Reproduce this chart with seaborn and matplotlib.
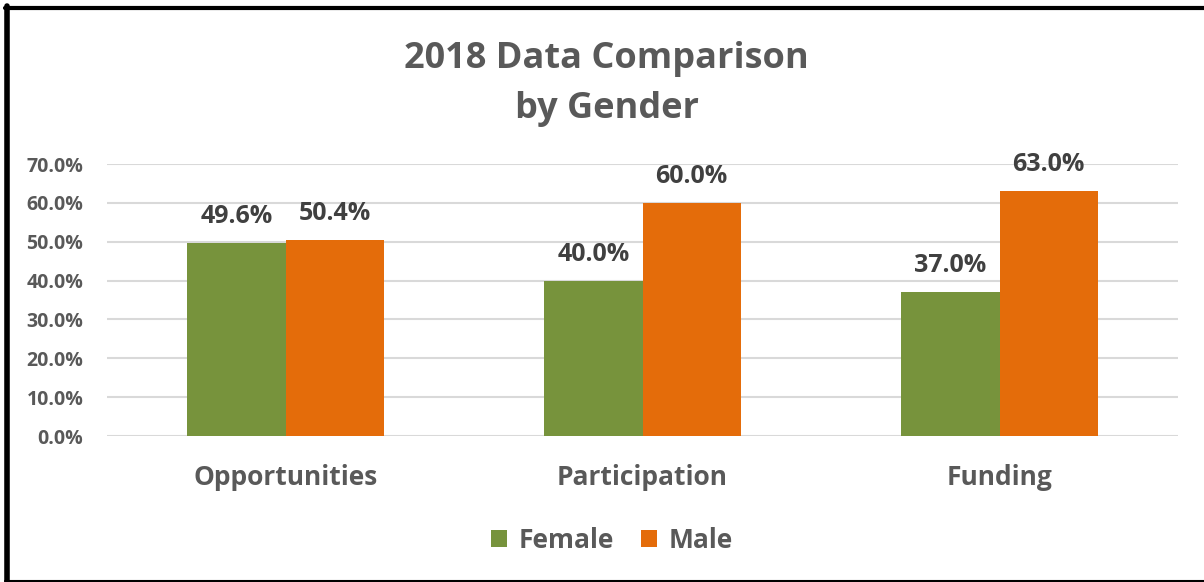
import matplotlib
matplotlib.use("Agg")
import matplotlib.pyplot as plt
import seaborn as sns
import pandas as pd
from matplotlib.patches import Patch
from matplotlib.lines import Line2D

categories = ["Opportunities", "Participation", "Funding"]
female = [0.496, 0.40, 0.37]
male = [0.504, 0.60, 0.63]
series_names = ["Female", "Male"]
yticks = [0.0, 0.1, 0.2, 0.3, 0.4, 0.5, 0.6, 0.7]

colors = {"Female": "#77933C", "Male": "#E46C0A"}
grey = "#595959"
dark = "#404040"

df = pd.DataFrame({
    "category": categories * 2,
    "series": [series_names[0]] * 3 + [series_names[1]] * 3,
    "value": female + male,
})

sns.set_theme(style="white")
plt.rcParams["font.family"] = ["Open Sans", "DejaVu Sans"]

fig = plt.figure(figsize=(12.04, 5.82), dpi=100)
ax = fig.add_axes([107 / 1204, 1 - 436 / 582, (1178 - 107) / 1204, (436 - 164) / 582])

sns.barplot(data=df, x="category", y="value", hue="series", palette=colors,
            width=0.55, gap=0, saturation=1, ax=ax, legend=False,
            edgecolor="none", linewidth=0, zorder=3)

ax.set_ylim(0, 0.7)
ax.set_xlim(-0.5, 2.5)
ax.set_yticks(yticks)
ax.set_yticklabels([f"{v*100:.1f}%" for v in yticks], fontsize=14, fontweight="bold", color=grey)
ax.tick_params(axis="y", length=0, pad=17)
ax.tick_params(axis="x", length=0, pad=20)
for lbl in ax.get_xticklabels():
    lbl.set_fontsize(19)
    lbl.set_fontweight("bold")
    lbl.set_color(grey)
ax.set_xlabel("")
ax.set_ylabel("")
for s in ax.spines.values():
    s.set_visible(False)
ax.grid(axis="y", color="#D9D9D9", linewidth=1.5, zorder=0)
ax.set_axisbelow(True)

for cont in ax.containers:
    ax.bar_label(cont, labels=[f"{v*100:.1f}%" for v in cont.datavalues],
                 padding=10, fontsize=18, fontweight="bold", color=dark)

fig.text(0.504, 1 - 84 / 582, "2018 Data Comparison\nby Gender", ha="center", va="center",
         fontsize=26, fontweight="bold", color=grey, linespacing=1.5)

handles = [Patch(facecolor=colors[n], edgecolor="none") for n in series_names]
fig.legend(handles, series_names, loc="center", bbox_to_anchor=(612 / 1204, 1 - 540 / 582),
           ncol=2, frameon=False, handlelength=0.6, handleheight=0.6,
           handletextpad=0.45, columnspacing=1.0,
           prop={"weight": "bold", "size": 19})
for t in fig.legends[0].get_texts():
    t.set_color(grey)

# figure border
fig.add_artist(Line2D([6.5 / 1204, 6.5 / 1204], [0, 1 - 6 / 582], transform=fig.transFigure, color="black", linewidth=4))
fig.add_artist(Line2D([5 / 1204, 1], [1 - 7.5 / 582, 1 - 7.5 / 582], transform=fig.transFigure, color="black", linewidth=3))
fig.add_artist(Line2D([5 / 1204, 1], [1 - 580.5 / 582, 1 - 580.5 / 582], transform=fig.transFigure, color="black", linewidth=1.5))

fig.savefig("out.png", dpi=100, facecolor="white")
